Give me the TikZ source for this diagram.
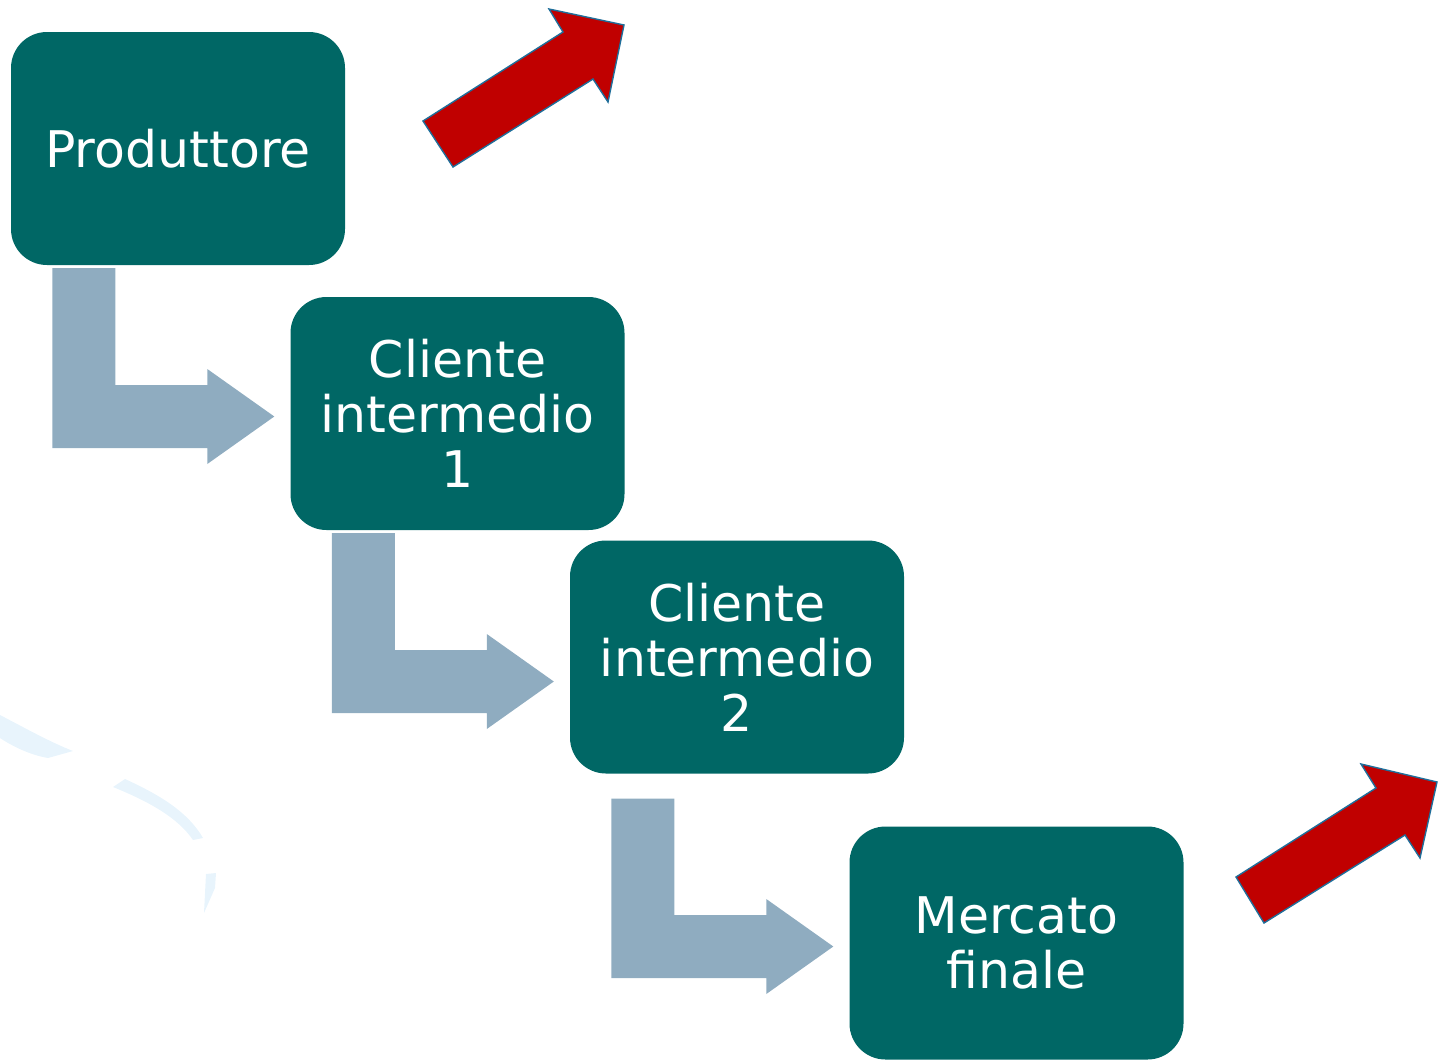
\documentclass[tikz,border=0pt]{standalone}
\usepackage{fontspec}
\newfontfamily\boxfont{DejaVu Sans}
\usetikzlibrary{calc}
\definecolor{boxteal}{HTML}{006765}
\definecolor{flowgrey}{HTML}{8FACC0}
\definecolor{upred}{HTML}{C00000}
\definecolor{upedge}{HTML}{1F6E9A}
\definecolor{swoosh}{HTML}{E8F4FC}
\tikzset{
  stage/.style={fill=boxteal, rounded corners=36pt, minimum width=334pt,
    minimum height=233pt, inner sep=0pt, text=white, align=center,
    font=\boxfont\fontsize{50.5}{55}\selectfont},
  flow/.style={fill=flowgrey},
  growth/.style={fill=upred, draw=upedge, line width=1.4pt, line join=miter},
}
% bent block arrow from the bottom of #1 to the left side of #2;
% #3 = gap below #1, #4 = drop of the arrow axis below the centre of #2
\newcommand\bentarrow[4]{%
  \fill[flow] let \p1=(#1.south), \p2=(#2.west) in
    (\x2-238pt,\y1-#3pt) -- (\x2-175pt,\y1-#3pt) -- (\x2-175pt,\y2-#4pt+31.5pt)
    -- (\x2-83pt,\y2-#4pt+31.5pt) -- (\x2-83pt,\y2-#4pt+47.5pt) -- (\x2-16pt,\y2-#4pt)
    -- (\x2-83pt,\y2-#4pt-47.5pt) -- (\x2-83pt,\y2-#4pt-31.5pt) -- (\x2-238pt,\y2-#4pt-31.5pt)
    -- cycle;}
\begin{document}
\begin{tikzpicture}[x=1pt,y=-1pt]
\useasboundingbox (0,0) rectangle (1443,1061);

% faint decorative swoosh at the left edge
\fill[swoosh] (0,715) .. controls (25,728) and (50,742) .. (73,751)
  -- (48,758) .. controls (30,755) and (12,746) .. (0,738) -- cycle;
\fill[swoosh] (125,779) .. controls (160,795) and (188,812) .. (203,838)
  -- (193,840) .. controls (178,818) and (150,802) .. (113,787) -- cycle;
\fill[swoosh] (206,874) -- (216,873) -- (215,888) -- (204,913) -- cycle;

% supply chain stages
\node[stage] (prod) at (178,148.5) {Produttore};
\node[stage] (cli1) at (457.5,413.5) {Cliente\\intermedio\\1};
\node[stage] (cli2) at (737,657) {Cliente\\intermedio\\2};
\node[stage] (merc) at (1016.5,943) {Mercato\\finale};

% flows between stages
\bentarrow{prod}{cli1}{3}{3}
\bentarrow{cli1}{cli2}{3}{24.5}
\bentarrow{cli2}{merc}{25}{3.5}

% rising arrows
\draw[growth] (423,121) -- (453,167) -- (593,79) -- (608,102) -- (624,25)
  -- (549,9) -- (563,32) -- cycle;
\draw[growth] (1236,877) -- (1264,923) -- (1405,835) -- (1420,858)
  -- (1437,782) -- (1361,764) -- (1376,788) -- cycle;
\end{tikzpicture}
\end{document}
